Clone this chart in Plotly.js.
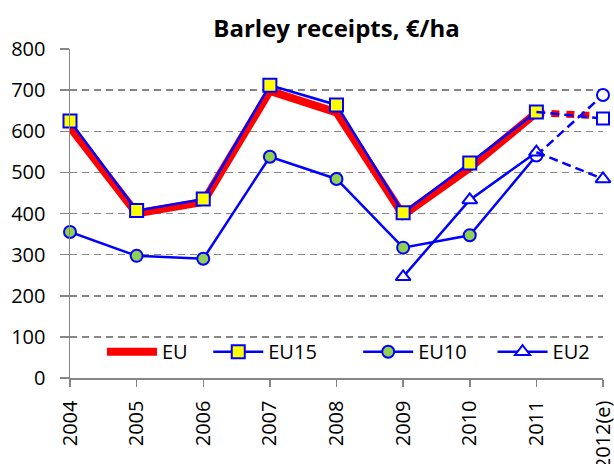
<!DOCTYPE html>
<html>
<head>
<meta charset="utf-8">
<script src="https://cdn.plot.ly/plotly-3.0.1.min.js"></script>
<style>html,body{margin:0;padding:0;background:#fff;}#chart{width:614px;height:464px;}</style>
</head>
<body>
<div id="chart"></div>
<script>
var years = ['2004','2005','2006','2007','2008','2009','2010','2011','2012(e)'];
var EU   = [610, 400, 428, 698, 646, 396, 511, 645, 637];
var EU15 = [625, 407, 435, 712, 664, 402, 523, 647, 631];
var EU10 = [355, 297, 290, 538, 484, 317, 347, 541, 688];
var EU2  = [null, null, null, null, null, 246, 433, 549, 484];
var seriesNames = ['EU', 'EU15', 'EU10', 'EU2'];

var BLUE = '#0000FF', RED = '#FF0000', YEL = '#FFFF00', GRN = '#92D050', GRAY = '#868686', WHITE = '#FFFFFF';
var solidX = years.slice(0, 8), dashX = years.slice(7), lastX = years.slice(8);
var FONT = '"Open Sans", "Noto Sans", sans-serif';
var NB = '\u00a0';
function pad(s, n) { return s + new Array(n + 1).join(NB); }

var traces = [
  // EU
  {x: solidX, y: EU.slice(0, 8), name: pad(seriesNames[0], 3), mode: 'lines',
   line: {color: RED, width: 8}, cliponaxis: false},
  {x: dashX, y: EU.slice(7), mode: 'lines', showlegend: false,
   line: {color: RED, width: 7, dash: '8px,7px'}, cliponaxis: false},
  // EU15
  {x: solidX, y: EU15.slice(0, 8), name: pad(seriesNames[1], 7), mode: 'lines+markers',
   line: {color: BLUE, width: 2.5},
   marker: {symbol: 'square', size: 13, color: YEL, line: {color: BLUE, width: 2}}, cliponaxis: false},
  {x: dashX, y: EU15.slice(7), mode: 'lines', showlegend: false,
   line: {color: BLUE, width: 2.5, dash: '9px,5px'}, cliponaxis: false},
  {x: lastX, y: EU15.slice(8), mode: 'markers', showlegend: false,
   marker: {symbol: 'square', size: 12, color: WHITE, line: {color: BLUE, width: 2}}, cliponaxis: false},
  // EU10
  {x: solidX, y: EU10.slice(0, 8), name: pad(seriesNames[2], 4), mode: 'lines+markers',
   line: {color: BLUE, width: 2.5},
   marker: {symbol: 'circle', size: 12, color: [GRN, GRN, GRN, GRN, GRN, GRN, GRN, WHITE], line: {color: BLUE, width: 2}}, cliponaxis: false},
  {x: dashX, y: EU10.slice(7), mode: 'lines', showlegend: false,
   line: {color: BLUE, width: 2.5, dash: '9px,5px'}, cliponaxis: false},
  {x: lastX, y: EU10.slice(8), mode: 'markers', showlegend: false,
   marker: {symbol: 'circle', size: 12, color: WHITE, line: {color: BLUE, width: 2}}, cliponaxis: false},
  // EU2
  {x: solidX, y: EU2.slice(0, 8), name: seriesNames[3], mode: 'lines+markers',
   line: {color: BLUE, width: 2.5},
   marker: {symbol: 'triangle-up', size: 13, color: WHITE, line: {color: BLUE, width: 2}}, cliponaxis: false},
  {x: dashX, y: EU2.slice(7), mode: 'lines', showlegend: false,
   line: {color: BLUE, width: 2.5, dash: '9px,5px'}, cliponaxis: false},
  {x: lastX, y: EU2.slice(8), mode: 'markers', showlegend: false,
   marker: {symbol: 'triangle-up', size: 13, color: WHITE, line: {color: BLUE, width: 2}}, cliponaxis: false}
];

var layout = {
  width: 614, height: 464,
  margin: {l: 70, r: 11, t: 49, b: 86, pad: 0},
  paper_bgcolor: WHITE, plot_bgcolor: WHITE,
  font: {family: FONT, size: 20, color: '#000'},
  title: {text: '<b>Barley receipts, €/ha</b>', font: {family: FONT, size: 24, color: '#000'},
          x: 0.5, xref: 'paper', xanchor: 'center', y: 1 - 29/464, yref: 'container', yanchor: 'middle'},
  showlegend: true,
  legend: {orientation: 'h', x: 0.06, xanchor: 'left', y: 0.08, yanchor: 'middle',
           bgcolor: 'rgba(0,0,0,0)', font: {family: FONT, size: 20}, itemwidth: 50, tracegroupgap: 0},
  xaxis: {type: 'category', range: [0, 8], showgrid: false, zeroline: false,
          showline: true, linecolor: GRAY, linewidth: 1.5,
          ticks: 'outside', ticklen: 7, tickcolor: GRAY, tickwidth: 1.5, ticklabelstandoff: 6,
          tickangle: -90, tickfont: {family: FONT, size: 20}, fixedrange: true},
  yaxis: {range: [0, 800], dtick: 100, tick0: 0, showgrid: true, gridcolor: GRAY, gridwidth: 1.5, griddash: '7px,5px',
          zeroline: false, showline: true, linecolor: GRAY, linewidth: 1.5,
          ticks: 'outside', ticklen: 9, tickcolor: GRAY, tickwidth: 1.5, ticklabelstandoff: 10,
          tickfont: {family: FONT, size: 20}, fixedrange: true}
};

Plotly.newPlot('chart', traces, layout, {displayModeBar: false, staticPlot: true});
</script>
</body>
</html>
